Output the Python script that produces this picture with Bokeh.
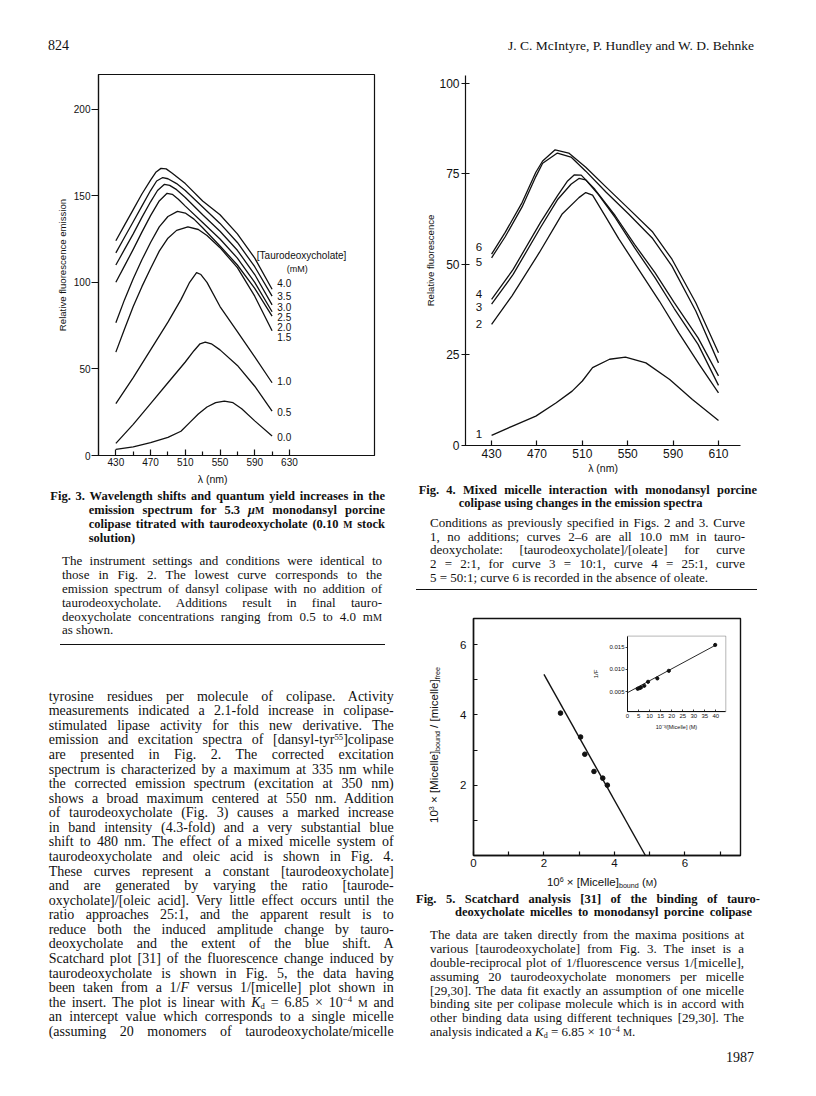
from bokeh.plotting import figure
from bokeh.models import Range1d, FixedTicker, LinearAxis, BoxAnnotation, Div, NumeralTickFormatter
from bokeh.layouts import column, row
from bokeh.embed import file_html
from bokeh.resources import INLINE
from bokeh.core.properties import value

INK = "#111111"
SANS = "Liberation Sans"
SERIF = "Liberation Serif"

# ---------------- Fig. 3 data (relative fluorescence emission vs wavelength, nm) ----------------
fig3_labels = ["4.0", "3.5", "3.0", "2.5", "2.0", "1.5", "1.0", "0.5", "0.0"]
c40_x = [430, 440, 450, 460, 470, 476, 482, 488, 495, 510, 530, 550, 570, 590, 610]
c40_y = [124, 133, 142, 151, 159, 163.5, 165.8, 165.5, 163, 157, 147, 139, 128, 114, 96]
c35_x = [430, 440, 450, 460, 470, 477, 484, 490, 500, 510, 530, 550, 570, 590, 610]
c35_y = [117, 126, 135, 144, 153, 158.5, 160.5, 159.8, 157, 153, 143.5, 134, 123, 109, 92]
c30_x = [430, 440, 450, 460, 470, 478, 486, 492, 500, 510, 530, 550, 570, 590, 610]
c30_y = [110, 119, 128, 137.5, 146.5, 153, 156.6, 156, 153.5, 149, 139, 129.5, 118.5, 104.5, 87]
c25_x = [430, 440, 450, 460, 470, 480, 489, 495, 502, 510, 530, 550, 570, 590, 610]
c25_y = [100, 109.5, 119, 129, 138.5, 147, 151.4, 150.8, 148, 144, 134.5, 125, 114, 100, 83]
c20_x = [430, 440, 450, 460, 470, 480, 490, 501, 510, 520, 530, 550, 570, 590, 610]
c20_y = [76.7, 90, 102, 113, 123, 132, 138, 141, 140, 136.5, 131.5, 121, 110, 96.5, 80.5]
c15_x = [430, 440, 450, 460, 470, 480, 490, 500, 513, 525, 535, 550, 570, 590, 610]
c15_y = [59.7, 73, 86, 97.5, 108, 118, 125.5, 130, 132, 130.5, 127, 120, 108.5, 92, 72]
c10_x = [430, 450, 470, 490, 505, 515, 523, 528, 535, 550, 570, 590, 610]
c10_y = [30, 45, 61, 77, 90, 100, 105.6, 104.5, 100, 86, 71.5, 57, 42]
c05_x = [430, 450, 470, 490, 510, 520, 527, 533, 540, 550, 570, 590, 610]
c05_y = [7, 18, 30, 42, 54, 60.5, 64.5, 65.5, 64.5, 61, 52, 40, 25.6]
c00_x = [430, 450, 470, 490, 505, 515, 525, 535, 545, 555, 565, 575, 590, 610]
c00_y = [3.5, 5, 7.5, 10.5, 14, 19, 24, 28, 30.5, 31.4, 30.5, 27, 20, 11.2]
fig3_xticks = [430, 470, 510, 550, 590, 630]
fig3_xminor = [450, 490, 530, 570, 610]
fig3_yticks = [0, 50, 100, 150, 200]

# ---------------- Fig. 4 data (relative fluorescence; axis tick "610" sits at 630) ----------------
fig4_labels = ["6", "5", "4", "3", "2", "1"]
k6_x = [430, 442, 457, 469, 475, 486, 498, 513, 531, 551, 572, 589, 610, 630]
k6_y = [52.8, 58.8, 67.1, 75.4, 78.5, 81.6, 80.7, 76.8, 71.3, 65.3, 58.9, 51.4, 39.4, 25.6]
k5_x = [430, 442, 457, 469, 475, 488, 500, 513, 531, 551, 572, 589, 610, 630]
k5_y = [51.8, 57.6, 65.9, 74.2, 77.9, 80.7, 79.6, 75.7, 69.9, 63.8, 57.1, 49.5, 37.1, 22.8]
k4_x = [430, 449, 473, 488, 497, 503, 509, 521, 539, 556, 574, 591, 612, 630]
k4_y = [40.3, 48.6, 61.5, 68.9, 73.0, 74.7, 74.6, 70.7, 63.4, 55.5, 47.7, 39.4, 29.7, 19.2]
k3_x = [430, 449, 473, 488, 500, 507, 513, 524, 539, 556, 574, 591, 612, 630]
k3_y = [39.0, 47.2, 60.1, 67.8, 72.1, 73.7, 73.3, 69.3, 62.9, 54.6, 46.3, 37.8, 27.9, 16.6]
k2_x = [430, 448, 472, 492, 507, 513, 519, 531, 542, 560, 578, 595, 613, 630]
k2_y = [33.4, 41.3, 53.2, 63.8, 68.4, 69.8, 69.1, 62.9, 57.1, 48.4, 39.8, 31.1, 22.4, 14.5]
k1_x = [430, 448, 469, 487, 501, 510, 519, 534, 548, 566, 587, 607, 630]
k1_y = [2.8, 5.3, 8.1, 11.8, 15.0, 17.8, 21.5, 23.8, 24.4, 22.8, 18.2, 12.7, 6.9]
fig4_xticks = [430, 470, 510, 550, 590, 630]
fig4_xtick_text = {630: "610"}
fig4_yticks = [0, 25, 50, 75, 100]

# ---------------- Fig. 5 data (Scatchard plot + double-reciprocal inset) ----------------
bound = [2.47, 3.04, 3.16, 3.42, 3.67, 3.80]
ratio = [4.05, 3.37, 2.88, 2.39, 2.20, 2.00]
fit_x = [2.0, 4.88]
fit_y = [5.15, 0.0]
inv_micelle = [4.6, 5.5, 6.1, 7.6, 9.3, 13.5, 18.7, 39.7]
inv_f = [0.00567, 0.00582, 0.00597, 0.00634, 0.00724, 0.0080, 0.0097, 0.01552]
inset_fit_x = [0.0, 40.0]
inset_fit_y = [0.0048, 0.0155]
fig5_xticks = [0, 1, 2, 3, 4, 5, 6, 7]
fig5_yticks = [1, 2, 3, 4, 5, 6]
inset_xticks = [0, 5, 10, 15, 20, 25, 30, 35, 40]
inset_yticks = [0.005, 0.010, 0.015]


def style_axis(ax, size, t_in, t_out, standoff):
    ax.axis_line_color = INK
    ax.axis_line_width = 1.2
    ax.major_tick_line_color = INK
    ax.major_tick_line_width = 1.2
    ax.major_tick_in = t_in
    ax.major_tick_out = t_out
    ax.minor_tick_line_color = None
    ax.major_label_text_font = SANS
    ax.major_label_text_font_size = size
    ax.major_label_text_color = INK
    ax.major_label_standoff = standoff
    ax.axis_label_text_font = SANS
    ax.axis_label_text_font_style = "normal"
    ax.axis_label_text_color = INK


def base_fig(xr, yr, fw, fh, bl, br, bt, bb):
    p = figure(x_range=xr, y_range=yr, frame_width=fw, frame_height=fh,
               min_border_left=bl, min_border_right=br, min_border_top=bt, min_border_bottom=bb,
               output_backend="svg", toolbar_location=None, margin=0)
    p.xgrid.visible = False
    p.ygrid.visible = False
    p.background_fill_color = "white"
    p.border_fill_color = "white"
    return p


# ---------------- Fig. 3 ----------------
p3 = base_fig(Range1d(410, 728), Range1d(0, 220), 276, 381, 98, 26, 12, 15)
p3.outline_line_color = INK
p3.outline_line_width = 1.2
for xs, ys in [(c40_x, c40_y), (c35_x, c35_y), (c30_x, c30_y), (c25_x, c25_y), (c20_x, c20_y),
               (c15_x, c15_y), (c10_x, c10_y), (c05_x, c05_y), (c00_x, c00_y)]:
    p3.line(xs, ys, line_color=INK, line_width=1.3, line_join="round")
p3.xaxis.ticker = FixedTicker(ticks=fig3_xticks, minor_ticks=fig3_xminor)
p3.yaxis.ticker = FixedTicker(ticks=fig3_yticks)
style_axis(p3.xaxis[0], "10px", 6, 0, 2)
p3.xaxis.minor_tick_line_color = INK
p3.xaxis.minor_tick_line_width = 1.2
p3.xaxis.minor_tick_in = 4
p3.xaxis.minor_tick_out = 0
style_axis(p3.yaxis[0], "10px", 0, 7, 1)
p3.yaxis.axis_label = "Relative fluorescence emission"
p3.yaxis.axis_label_text_font_size = "9.6px"
p3.yaxis.axis_label_standoff = 3
lab3_x = [616] * 9
lab3_y = [99.8, 92.1, 85.9, 80.2, 74.2, 68.4, 42.8, 25.0, 10.8]
p3.text(x=lab3_x, y=lab3_y, text=fig3_labels, text_font=value(SANS), text_font_size="10px",
        text_baseline="middle", text_align="left", text_color=INK)
p3.text(x=[592.4], y=[115.2], text=["[Taurodeoxycholate]"], text_font=value(SANS),
        text_font_size="10px", text_baseline="middle", text_align="left", text_color=INK)
p3.text(x=[639], y=[107.5], text=["(mM)"], text_font=value(SANS),
        text_font_size="9px", text_baseline="middle", text_align="center", text_color=INK)

# ---------------- Fig. 4 ----------------
p4 = base_fig(Range1d(407, 649.4), Range1d(0, 102.1), 275, 370, 65, 60, 13, 37)
p4.outline_line_color = None
for xs, ys in [(k6_x, k6_y), (k5_x, k5_y), (k4_x, k4_y), (k3_x, k3_y), (k2_x, k2_y), (k1_x, k1_y)]:
    p4.line(xs, ys, line_color=INK, line_width=1.3, line_join="round")
p4.xaxis.ticker = FixedTicker(ticks=fig4_xticks)
p4.xaxis.major_label_overrides = fig4_xtick_text
p4.yaxis.ticker = FixedTicker(ticks=fig4_yticks)
style_axis(p4.xaxis[0], "12px", 5, 0, 3)
style_axis(p4.yaxis[0], "12px", 4, 4, 2)
p4.xaxis.axis_label = "λ (nm)"
p4.xaxis.axis_label_text_font_size = "10.5px"
p4.xaxis.axis_label_standoff = 1
p4.yaxis.axis_label = "Relative fluorescence"
p4.yaxis.axis_label_text_font_size = "9.6px"
p4.yaxis.axis_label_standoff = 0
lab4_x = [418.8] * 6
lab4_y = [54.9, 50.6, 41.7, 38.3, 33.6, 3.3]
p4.text(x=lab4_x, y=lab4_y, text=fig4_labels, text_font=value(SANS), text_font_size="11.5px",
        text_baseline="middle", text_align="center", text_color=INK)

# ---------------- Fig. 5 ----------------
F5W, F5H = 267, 237
p5 = base_fig(Range1d(0, 7.58), Range1d(0, 6.74), F5W, F5H, 23, 60, 18, 17)
p5.outline_line_color = INK
p5.outline_line_width = 1.4
p5.line(fit_x, fit_y, line_color=INK, line_width=1.4)
p5.scatter(bound, ratio, size=4.6, color=INK)
p5.xaxis.ticker = FixedTicker(ticks=fig5_xticks)
p5.xaxis.major_label_overrides = {1: "", 3: "", 5: "", 7: ""}
p5.yaxis.ticker = FixedTicker(ticks=fig5_yticks)
p5.yaxis.major_label_overrides = {1: "", 3: "", 5: ""}
style_axis(p5.xaxis[0], "11.5px", 4, 0, 3)
style_axis(p5.yaxis[0], "11.5px", 4, 0, 7)
p5.xaxis.axis_line_width = 1.4
p5.yaxis.axis_line_width = 1.4

in_left, in_right, in_top, in_bottom = 154.0, 252.3, 17.6, 93.3
ix0, ix1 = 0.0, 44.5
iy0, iy1 = 0.0005, 0.0175
sx = (in_right - in_left) / (ix1 - ix0)
sy = (in_bottom - in_top) / (iy1 - iy0)
p5.extra_x_ranges = {"ix": Range1d(ix0 - in_left / sx, ix1 + (F5W - in_right) / sx)}
p5.extra_y_ranges = {"iy": Range1d(iy0 - (F5H - in_bottom) / sy, iy1 + in_top / sy)}
p5.add_layout(BoxAnnotation(left=ix0, right=ix1, bottom=iy0, top=iy1, x_range_name="ix",
                            y_range_name="iy", fill_color=None, fill_alpha=0,
                            line_color=INK, line_width=1.0))
iax = LinearAxis(x_range_name="ix", y_range_name="iy", fixed_location=iy0, bounds=(ix0, ix1),
                 ticker=FixedTicker(ticks=inset_xticks), axis_label="10⁻³/[Micelle] (M)")
style_axis(iax, "6px", 2, 0, 2)
iax.axis_line_width = 1.0
iax.major_tick_line_width = 0.8
iax.axis_label_text_font_size = "5.5px"
iax.axis_label_standoff = 3
p5.add_layout(iax, "below")
iay = LinearAxis(x_range_name="ix", y_range_name="iy", fixed_location=ix0, bounds=(iy0, iy1),
                 ticker=FixedTicker(ticks=inset_yticks), formatter=NumeralTickFormatter(format="0.000"),
                 axis_label="1/F")
style_axis(iay, "6px", 0, 2, 1)
iay.axis_line_width = 1.0
iay.major_tick_line_width = 0.8
iay.axis_label_text_font_size = "6px"
iay.axis_label_standoff = 7
p5.add_layout(iay, "left")
p5.line(inset_fit_x, inset_fit_y, x_range_name="ix", y_range_name="iy", line_color=INK, line_width=0.9)
p5.scatter(inv_micelle, inv_f, x_range_name="ix", y_range_name="iy", size=3.2, color=INK)


# ---------------- text blocks ----------------
def sup(s):
    return f'<span style="font-size:0.62em;position:relative;top:-0.5em;">{s}</span>'


def sub(s):
    return f'<span style="font-size:0.62em;position:relative;top:0.3em;">{s}</span>'


def sc(s):
    return f'<span style="font-size:0.78em;">{s}</span>'


def tline(html, left, center, width, pitch, size, bold=False, justify=True, align="left", family=SERIF):
    top = center - pitch / 2.0
    al = "justify" if justify else align
    return (f'<div style="position:absolute;left:{left:.1f}px;top:{top:.1f}px;width:{width:.1f}px;'
            f'height:{pitch:.1f}px;line-height:{pitch:.1f}px;font-family:\'{family}\';font-size:{size}px;'
            f'font-weight:{"bold" if bold else "normal"};text-align:{al};text-align-last:{al};'
            f'color:{INK};white-space:normal;">{html}</div>')


def rule(left, top, width, thick):
    return (f'<div style="position:absolute;left:{left}px;top:{top}px;width:{width}px;'
            f'height:0px;border-top:{thick}px solid {INK};"></div>')


def block(w, h, parts):
    html = f'<div style="position:relative;width:{w}px;height:{h}px;">' + "".join(parts) + "</div>"
    return Div(text=html, width=w, height=h, margin=0, disable_math=True)


header_left = block(400, 62, [tline("824", 48, 45, 60, 15, 14, justify=False)])
header_right = block(400, 62, [tline("J. C. McIntyre, P. Hundley and W. D. Behnke", 54, 45, 300, 15,
                                     13.5, justify=False, align="right")])

cap3_bold = [
    "Fig. 3. Wavelength shifts and quantum yield increases in the",
    f"emission spectrum for 5.3 <i>μ</i>{sc('M')} monodansyl porcine",
    f"colipase titrated with taurodeoxycholate (0.10 {sc('M')} stock",
    "solution)",
]
cap3_text = [
    "The instrument settings and conditions were identical to",
    "those in Fig. 2. The lowest curve corresponds to the",
    "emission spectrum of dansyl colipase with no addition of",
    "taurodeoxycholate. Additions result in final tauro-",
    f"deoxycholate concentrations ranging from 0.5 to 4.0 m{sc('M')}",
    "as shown.",
]
parts = [tline("λ (nm)", 162.7, 9.3, 100, 12, 10.5, justify=False, align="center", family=SANS)]
for i, t in enumerate(cap3_bold):
    c = 27 + 13.9 * i
    if i == 0:
        parts.append(tline(t, 50.3, c, 334.7, 13.9, 12.5, bold=True))
    else:
        parts.append(tline(t, 88.7, c, 296.3, 13.9, 12.5, bold=True, justify=(i < 3)))
for i, t in enumerate(cap3_text):
    parts.append(tline(t, 62, 91.3 + 13.8 * i, 320, 13.8, 13, justify=(i < len(cap3_text) - 1)))
parts.append(rule(60, 174, 325, 1.6))
cap3 = block(400, 184, parts)

body_text = [
    "tyrosine residues per molecule of colipase. Activity",
    "measurements indicated a 2.1-fold increase in colipase-",
    "stimulated lipase activity for this new derivative. The",
    f"emission and excitation spectra of [dansyl-tyr{sup('55')}]colipase",
    "are presented in Fig. 2. The corrected excitation",
    "spectrum is characterized by a maximum at 335 nm while",
    "the corrected emission spectrum (excitation at 350 nm)",
    "shows a broad maximum centered at 550 nm. Addition",
    "of taurodeoxycholate (Fig. 3) causes a marked increase",
    "in band intensity (4.3-fold) and a very substantial blue",
    "shift to 480 nm. The effect of a mixed micelle system of",
    "taurodeoxycholate and oleic acid is shown in Fig. 4.",
    "These curves represent a constant [taurodeoxycholate]",
    "and are generated by varying the ratio [taurode-",
    "oxycholate]/[oleic acid]. Very little effect occurs until the",
    "ratio approaches 25:1, and the apparent result is to",
    "reduce both the induced amplitude change by tauro-",
    "deoxycholate and the extent of the blue shift. A",
    "Scatchard plot [31] of the fluorescence change induced by",
    "taurodeoxycholate is shown in Fig. 5, the data having",
    "been taken from a 1/<i>F</i> versus 1/[micelle] plot shown in",
    f"the insert. The plot is linear with <i>K</i>{sub('d')} = 6.85 × 10{sup('−4')} {sc('M')} and",
    "an intercept value which corresponds to a single micelle",
    "(assuming 20 monomers of taurodeoxycholate/micelle",
]
body = block(400, 426, [tline(t, 48.7, 43 + 14.57 * i, 345, 14.57, 14) for i, t in enumerate(body_text)])

cap4_bold = [
    "Fig. 4. Mixed micelle interaction with monodansyl porcine",
    "colipase using changes in the emission spectra",
]
cap4_text = [
    "Conditions as previously specified in Figs. 2 and 3. Curve",
    f"1, no additions; curves 2–6 are all 10.0 m{sc('M')} in tauro-",
    "deoxycholate: [taurodeoxycholate]/[oleate] for curve",
    "2 = 2:1, for curve 3 = 10:1, curve 4 = 25:1, curve",
    "5 = 50:1; curve 6 is recorded in the absence of oleate.",
]
parts = [tline(cap4_bold[0], 18.7, 8.3, 338.3, 13.5, 12.5, bold=True),
         tline(cap4_bold[1], 58.7, 21.8, 298, 13.5, 12.5, bold=True, justify=False)]
for i, t in enumerate(cap4_text):
    parts.append(tline(t, 30, 40.7 + 13.8 * i, 315, 13.8, 13, justify=(i < len(cap4_text) - 1)))
parts.append(rule(16, 107, 341, 1.6))
cap4 = block(400, 118, parts)

ylab5 = (f'<div style="position:absolute;left:33.7px;top:145px;transform:translate(-50%,-50%) rotate(-90deg);'
         f'white-space:nowrap;font-family:\'{SANS}\';font-size:11.5px;color:{INK};">'
         f'10{sup("3")} × [Micelle]{sub("bound")} / [micelle]{sub("free")}</div>')
ylab5_div = block(50, 272, [ylab5])

cap5_bold = [
    "Fig. 5. Scatchard analysis [31] of the binding of tauro-",
    "deoxycholate micelles to monodansyl porcine colipase",
]
cap5_text = [
    "The data are taken directly from the maxima positions at",
    "various [taurodeoxycholate] from Fig. 3. The inset is a",
    "double-reciprocal plot of 1/fluorescence versus 1/[micelle],",
    "assuming 20 taurodeoxycholate monomers per micelle",
    "[29,30]. The data fit exactly an assumption of one micelle",
    "binding site per colipase molecule which is in accord with",
    "other binding data using different techniques [29,30]. The",
    f"analysis indicated a <i>K</i>{sub('d')} = 6.85 × 10{sup('−4')} {sc('M')}.",
]
parts = [tline(f"10{sup('6')} × [Micelle]{sub('bound')} ({sc('M')})", 102, 10, 200, 13, 11.5,
               justify=False, align="center", family=SANS),
         tline(cap5_bold[0], 16, 27.3, 344, 13.3, 12.5, bold=True),
         tline(cap5_bold[1], 55, 40.6, 297, 13.3, 12.5, bold=True)]
for i, t in enumerate(cap5_text):
    parts.append(tline(t, 30, 63.3 + 13.8 * i, 314, 13.8, 13, justify=(i < len(cap5_text) - 1)))
parts.append(tline("1987", 254, 185, 100, 15, 14, justify=False, align="right"))
cap5 = block(400, 208, parts)

left_col = column(header_left, p3, cap3, body, spacing=0, margin=0)
right_col = column(header_right, p4, cap4, row(ylab5_div, p5, spacing=0, margin=0), cap5,
                   spacing=0, margin=0)
page = row(left_col, right_col, spacing=0, margin=0)

open("out.html", "w").write(file_html(page, INLINE, title="Fig. 3-5"))
